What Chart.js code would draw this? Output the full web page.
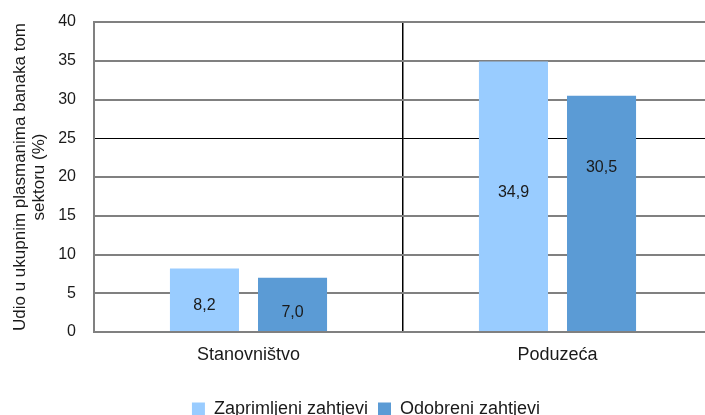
<!DOCTYPE html>
<html>
<head>
<meta charset="utf-8">
<script src="https://cdn.jsdelivr.net/npm/chart.js@4/dist/chart.umd.min.js"></script>
<style>
  html, body { margin: 0; padding: 0; overflow: hidden; background: #fff; }
  canvas { display: block; }
</style>
</head>
<body>
<canvas id="c" width="714" height="415"></canvas>
<script>
const categories = ['Stanovništvo', 'Poduzeća'];
const seriesNames = ['Zaprimljeni zahtjevi', 'Odobreni zahtjevi'];
const zaprimljeni = [8.2, 34.9];
const odobreni = [7.0, 30.5];
const yTicks = [0, 5, 10, 15, 20, 25, 30, 35, 40];
const yTitle = ['Udio u ukupnim plasmanima banaka tom', 'sektoru (%)'];

const fmt = v => v.toFixed(1).replace('.', ',');

const labelPlugin = {
  id: 'barLabels',
  afterDatasetsDraw(chart, args, opts) {
    const ctx = chart.ctx;
    ctx.save();
    ctx.font = '16px "Liberation Sans", Arial, sans-serif';
    ctx.fillStyle = '#1a1a1a';
    ctx.textAlign = 'center';
    ctx.textBaseline = 'middle';
    chart.data.datasets.forEach((ds, di) => {
      const meta = chart.getDatasetMeta(di);
      meta.data.forEach((bar, i) => {
        const mid = (bar.y + bar.base) / 2;
        const off = (opts.offsets && opts.offsets[di] && opts.offsets[di][i]) || 0;
        ctx.fillText(fmt(ds.data[i]), bar.x, mid + off);
      });
    });
    ctx.restore();
  }
};

new Chart(document.getElementById('c'), {
  type: 'bar',
  data: {
    labels: categories,
    datasets: [
      { label: seriesNames[0], data: zaprimljeni, backgroundColor: '#99CCFF',
        categoryPercentage: 0.57, barPercentage: 0.784 },
      { label: seriesNames[1], data: odobreni, backgroundColor: '#5B9BD5',
        categoryPercentage: 0.57, barPercentage: 0.784 }
    ]
  },
  options: {
    responsive: false,
    animation: false,
    layout: { padding: { top: 22, left: 20, right: 2, bottom: -13 } },
    plugins: {
      tooltip: { enabled: false },
      barLabels: { offsets: [[6, -4], [8, -46]] },
      legend: {
        position: 'bottom',
        labels: {
          boxWidth: 13, boxHeight: 13, padding: 10,
          color: '#1a1a1a',
          font: { family: '"Liberation Sans", Arial, sans-serif', size: 18 }
        }
      }
    },
    scales: {
      x: {
        offset: true,
        grid: { offset: true, color: '#000', lineWidth: 1.5, drawTicks: false },
        border: { display: true, color: '#808080', width: 2 },
        ticks: { color: '#1a1a1a', padding: 12,
          font: { family: '"Liberation Sans", Arial, sans-serif', size: 18 } },
        afterFit(s) { s.height = 58; }
      },
      y: {
        min: 0, max: 40,
        afterBuildTicks(s) { s.ticks = yTicks.map(v => ({ value: v })); },
        grid: {
          drawTicks: true, tickLength: 10, tickColor: 'rgba(0,0,0,0)',
          color: c => (c.tick && c.tick.value === 25) ? '#000' : '#808080',
          lineWidth: c => (c.tick && c.tick.value === 25) ? 1 : 2
        },
        border: { display: true, color: '#808080', width: 2 },
        ticks: { color: '#1a1a1a', padding: 8,
          font: { family: '"Liberation Sans", Arial, sans-serif', size: 16 } },
        title: {
          display: true, text: yTitle, color: '#1a1a1a',
          padding: { top: -9, bottom: 0 },
          font: { family: '"Liberation Sans", Arial, sans-serif', size: 17, lineHeight: 1.1 }
        },
        afterFit(s) { s.width = 74; }
      }
    }
  },
  plugins: [labelPlugin]
});
</script>
</body>
</html>
